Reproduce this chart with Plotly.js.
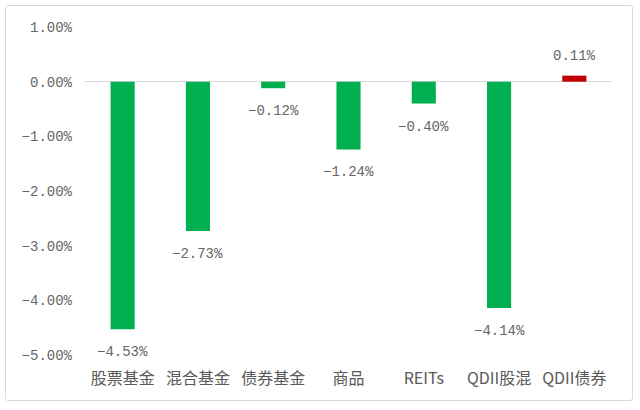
<!DOCTYPE html>
<html><head><meta charset="utf-8">
<script src="https://cdn.plot.ly/plotly-3.0.1.min.js"></script>
<style>
body{margin:0;padding:0;background:#fff;}
#wrap{position:relative;width:640px;height:410px;}
#chart{position:absolute;left:0;top:0;width:640px;height:410px;}
#frame{position:absolute;left:5px;top:5px;width:626px;height:394px;border:1.5px solid #d9d9d9;border-radius:3px;pointer-events:none;}
</style></head>
<body>
<div id="wrap"><div id="chart"></div><div id="frame"></div></div>
<script>
const categories = ["股票基金","混合基金","债券基金","商品","REITs","QDII股混","QDII债券"];
const values = [-4.53,-2.73,-0.12,-1.24,-0.40,-4.14,0.11];
const tickValues = [1,0,-1,-2,-3,-4,-5];
const tickLabels = ["1.00%","0.00%","−1.00%","−2.00%","−3.00%","−4.00%","−5.00%"];

const fmt = v => (v<0?"−":"") + Math.abs(v).toFixed(2) + "%";
const colors = values.map(v => v>=0 ? "#C00000" : "#00B050");
const font = "Noto Sans CJK SC, Noto Sans, sans-serif";
const numFont = "Liberation Mono, DejaVu Sans Mono, monospace";

const annotations = categories.map((c,i)=>({
  x:c, y:values[i], xref:"x", yref:"y",
  text: fmt(values[i]), showarrow:false,
  yanchor: values[i]<0 ? "top" : "bottom",
  yshift: values[i]<0 ? -13 : 10,
  font:{family:numFont,size:14,color:"#666666"}
}));

Plotly.newPlot("chart",[{
  type:"bar", x:categories, y:values,
  marker:{color:colors}, width:0.32,
  hoverinfo:"none"
}],{
  width:640,height:410,
  margin:{l:85,r:28,t:27,b:55},
  paper_bgcolor:"#fff",plot_bgcolor:"#fff",
  showlegend:false,
  xaxis:{type:"category",showgrid:false,zeroline:false,showline:false,ticks:"",
    ticklabelstandoff:12,
    tickfont:{family:font,size:16,color:"#595959"}},
  yaxis:{range:[-5,1],tickvals:tickValues,ticktext:tickLabels,showgrid:false,
    zeroline:true,zerolinecolor:"#d9d9d9",zerolinewidth:1.5,showline:false,ticks:"",
    ticklabelstandoff:12,
    tickfont:{family:numFont,size:14,color:"#666666"}},
  annotations:annotations
},{staticPlot:true});
</script>
</body></html>
